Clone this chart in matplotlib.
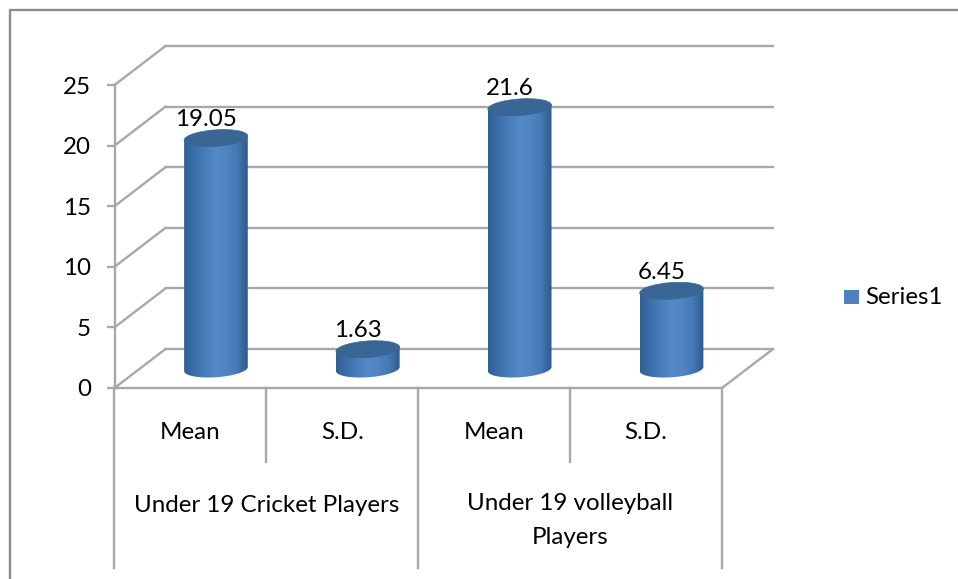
import matplotlib
matplotlib.use("Agg")
import matplotlib.pyplot as plt
import numpy as np
from matplotlib.colors import LinearSegmentedColormap
from matplotlib.lines import Line2D
from matplotlib.patches import Ellipse, PathPatch, Rectangle
from matplotlib.path import Path
from matplotlib.transforms import Affine2D, IdentityTransform, blended_transform_factory

categories = ["Mean", "S.D.", "Mean", "S.D."]
groups = ["Under 19 Cricket Players", "Under 19 volleyball\nPlayers"]
values = [19.05, 1.63, 21.6, 6.45]
value_labels = ["19.05", "1.63", "21.6", "6.45"]
y_ticks = [0, 5, 10, 15, 20, 25]
series_name = "Series1"

W, H = 958, 579
plt.rcParams["font.family"] = ["Lato", "DejaVu Sans"]
FS = 17.4
GRID = "#a8a8a8"
LW = 1.7
fig = plt.figure(figsize=(W / 100, H / 100), dpi=100, facecolor="white")

L, R, Y0, Y25 = 114.5, 722, 388, 85
ax = fig.add_axes([L / W, 1 - Y0 / H, (R - L) / W, (Y0 - Y25) / H], facecolor="none")
ax.set_xlim(-0.5, 3.5)
ax.set_ylim(0, 25)
for s in ("top", "right"):
    ax.spines[s].set_visible(False)
for s in ("left", "bottom"):
    ax.spines[s].set_color(GRID)
    ax.spines[s].set_linewidth(LW)
ax.set_yticks(y_ticks)
ax.set_xticks(range(4))
ax.set_xticklabels(categories)
ax.tick_params(axis="y", length=6, width=LW, color=GRID, labelsize=FS, pad=11)
ax.tick_params(axis="x", length=0, labelsize=FS, pad=24.5)

DX, DY = 51, 39  # wall depth in pixels
depth = Affine2D().translate(DX, DY)
back = ax.transData + depth
mid = ax.transData + Affine2D().translate(DX / 2, DY / 2 - 0.5)

# walls and floor
for t in y_ticks:
    ax.plot([-0.5, 3.5], [t, t], color=GRID, lw=LW, transform=back, clip_on=False, zorder=1)
    a = ax.transData.transform((-0.5, t))
    b = back.transform((-0.5, t))
    ax.add_line(Line2D([a[0], b[0]], [a[1], b[1]], color=GRID, lw=LW,
                       transform=IdentityTransform(), clip_on=False, zorder=1))
a = ax.transData.transform((3.5, 0))
b = back.transform((3.5, 0))
ax.add_line(Line2D([a[0], b[0]], [a[1], b[1]], color=GRID, lw=LW,
                   transform=IdentityTransform(), clip_on=False, zorder=1))

# category dividers beneath the axis
tx = blended_transform_factory(ax.transData, fig.transFigure)
for x, bottom in zip([-0.5, 0.5, 1.5, 2.5, 3.5], [568, 462, 568, 462, 568]):
    ax.add_line(Line2D([x, x], [1 - Y0 / H, 1 - bottom / H], color=GRID, lw=LW,
                       transform=tx, clip_on=False))
ax.text(0.5, 1 - 505 / H, groups[0], transform=tx, ha="center", va="center", fontsize=FS)
ax.text(2.5, 1 - 520.5 / H, groups[1], transform=tx, ha="center", va="center",
        fontsize=FS, linespacing=1.72)

# cylinders
cmap = LinearSegmentedColormap.from_list(
    "cyl", ["#2f5f95", "#3b70aa", "#4a7dba", "#5488c8", "#5185c4", "#4279b4", "#2d5a8c"])
ramp = np.linspace(0, 1, 128).reshape(1, -1)
HALF_W = 0.21
ANGLE, E_H = 4.0, 16.5
for i, v in enumerate(values):
    lb = mid.transform((i - HALF_W, 0)); rb = mid.transform((i + HALF_W, 0))
    lt = mid.transform((i - HALF_W, v))
    cx = (lb[0] + rb[0]) / 2
    width = rb[0] - lb[0]
    th = np.linspace(np.pi, 2 * np.pi, 60)
    ex = width / 2 * np.cos(th)
    ey = E_H / 2 * np.sin(th)
    rot = np.radians(ANGLE)
    xs = cx + ex * np.cos(rot) - ey * np.sin(rot)
    base_y = lb[1] + ex * np.sin(rot) + ey * np.cos(rot)
    top_y = lt[1] + ex * np.sin(rot)
    verts = list(zip(xs, base_y)) + list(zip(xs[::-1], top_y[::-1]))
    verts.append(verts[0])
    clip = PathPatch(Path(verts), transform=IdentityTransform())
    im = ax.imshow(ramp, cmap=cmap, aspect="auto", interpolation="bilinear",
                   extent=(i - HALF_W, i + HALF_W, -1, v + 1),
                   transform=mid, zorder=3, clip_on=True)
    im.set_clip_path(clip)
    ax.add_patch(Ellipse((cx, lt[1]), width, E_H, angle=ANGLE, facecolor="#3a6696",
                         edgecolor="#3a6696", lw=0.5, transform=IdentityTransform(),
                         zorder=4, clip_on=False))
    ax.text(i, v, value_labels[i], transform=mid + Affine2D().translate(-9.5, 12),
            ha="center", va="baseline", fontsize=FS, zorder=5)
ax.set_xlim(-0.5, 3.5)
ax.set_ylim(0, 25)

# legend
fig.add_artist(Rectangle((844 / W, 1 - 304 / H), 15 / W, 14 / H, transform=fig.transFigure,
                         facecolor="#4f81bd", edgecolor="none"))
fig.text(865 / W, 1 - 297 / H, series_name, fontsize=FS, va="center", ha="left")

# picture border: only the top and left edges are visible
fig.add_artist(Line2D([9.5 / W, 9.5 / W, 1], [0, 1 - 10 / H, 1 - 10 / H],
                      color="#8c8c8c", lw=1.7, transform=fig.transFigure))

fig.savefig("out.png", dpi=100, facecolor="white")
